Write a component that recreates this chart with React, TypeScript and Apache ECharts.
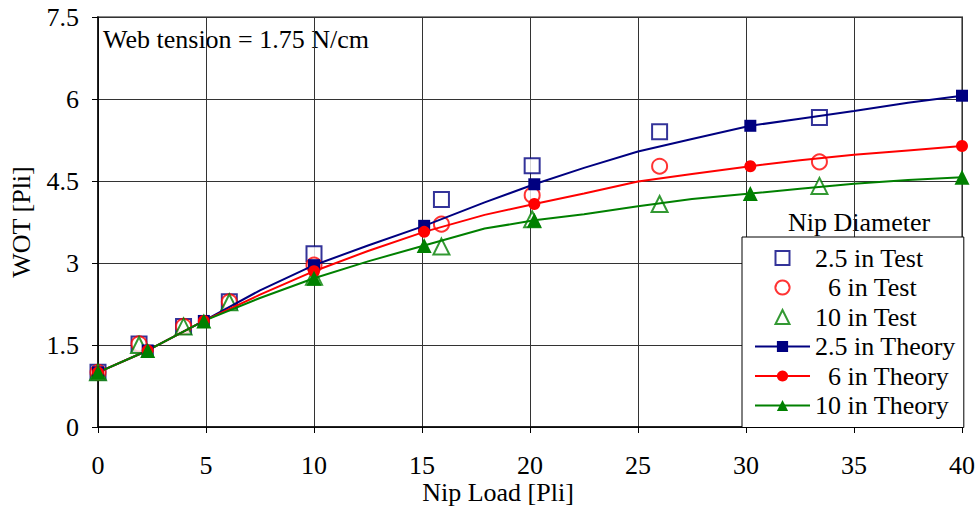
import React, { useEffect, useRef } from "react";
import * as echarts from "echarts";

const FONT = "'Liberation Serif', 'Times New Roman', serif";

// Test data (open markers)
const testX = [0, 1.9, 3.96, 6.08, 10, 15.9, 20.1, 26, 33.4];
const test25 = [1.0, 1.52, 1.84, 2.29, 3.17, 4.16, 4.78, 5.4, 5.66];
const test6 = [1.0, 1.52, 1.84, 2.29, 2.96, 3.71, 4.24, 4.77, 4.85];
const test10 = [1.0, 1.5, 1.84, 2.28, 2.75, 3.3, 3.8, 4.08, 4.41];

// Theory curves
const theoryX = [0, 2.3, 4.9, 7.5, 10, 12.5, 15.1, 17.9, 20.2, 22.5, 25, 27.5, 30.2, 32.5, 35, 37.5, 40];
const theory25 = [1.0, 1.4, 1.94, 2.5, 2.96, 3.32, 3.68, 4.11, 4.44, 4.74, 5.04, 5.27, 5.51, 5.64, 5.78, 5.93, 6.06];
const theory6 = [1.0, 1.4, 1.94, 2.42, 2.85, 3.22, 3.57, 3.88, 4.08, 4.27, 4.49, 4.63, 4.77, 4.88, 4.98, 5.06, 5.14];
const theory10 = [1.0, 1.4, 1.94, 2.36, 2.72, 3.03, 3.32, 3.63, 3.78, 3.89, 4.04, 4.17, 4.27, 4.36, 4.45, 4.52, 4.57];
const theoryMarkedX = [0, 2.3, 4.9, 10, 15.1, 20.2, 30.2, 40];

const xTicks = { min: 0, max: 40, interval: 5 };
const yTicks = { min: 0, max: 7.5, interval: 1.5 };

const names = ["2.5 in Test", "\u20026 in Test", "10 in Test", "2.5 in Theory", "\u20026 in Theory", "10 in Theory"];

const NAVY = "#000080";
const RED = "#ff0000";
const GREEN = "#008000";

const SQUARE_ICON = "path://M0,0L10,0L10,10L0,10Z";
const CIRCLE_ICON = "path://M5,0A5,5,0,1,1,4.999,0Z";
const TRIANGLE_ICON = "path://M5,0L10,10L0,10Z";

function testSeries(name: string, ys: number[], symbol: string, color: string, size: number) {
  return {
    name,
    type: "scatter",
    data: testX.map((x, i) => [x, ys[i]]),
    symbol,
    symbolSize: size,
    itemStyle: { color, borderColor: color, borderWidth: 2 },
    z: 2,
  };
}

function theorySeries(name: string, ys: number[], symbol: string, color: string, size: number) {
  return {
    name,
    type: "line",
    data: theoryX.map((x, i) =>
      theoryMarkedX.includes(x) ? { value: [x, ys[i]] } : { value: [x, ys[i]], symbol: "none" }
    ),
    symbol,
    symbolSize: size,
    showAllSymbol: true,
    lineStyle: { color, width: 2 },
    itemStyle: { color },
    z: 3,
  };
}

export default function App() {
  const ref = useRef<HTMLDivElement>(null);
  useEffect(() => {
    if (!ref.current) return;
    const chart = echarts.init(ref.current, null, { renderer: "svg" });
    chart.setOption({
      animation: false,
      backgroundColor: "#ffffff",
      textStyle: { fontFamily: FONT },
      grid: {
        left: 93,
        width: 869,
        top: 17,
        height: 410,
        show: true,
        borderColor: "#888888",
        borderWidth: 2,
        backgroundColor: "transparent",
      },
      xAxis: {
        type: "value",
        ...xTicks,
        axisLine: { show: true, onZero: false, lineStyle: { color: "#000", width: 1.5 } },
        axisTick: { show: true, length: 6, lineStyle: { color: "#000" } },
        axisLabel: { fontFamily: FONT, fontSize: 26, color: "#000", margin: 25 },
        splitLine: { show: true, lineStyle: { color: "#333", width: 1 } },
      },
      yAxis: {
        type: "value",
        ...yTicks,
        name: "WOT [Pli]",
        nameLocation: "middle",
        nameGap: 64,
        nameRotate: 90,
        nameTextStyle: { fontFamily: FONT, fontSize: 26, color: "#000" },
        axisLine: { show: true, onZero: false, lineStyle: { color: "#000", width: 1.5 } },
        axisTick: { show: true, length: 6, lineStyle: { color: "#000" } },
        axisLabel: {
          fontFamily: FONT,
          fontSize: 26,
          color: "#000",
          margin: 19,
          formatter: (v: number) => (Number.isInteger(v) ? String(v) : v.toFixed(1)),
        },
        splitLine: { show: true, lineStyle: { color: "#333", width: 1 } },
      },
      legend: {
        orient: "vertical",
        left: 742,
        top: 237,
        data: [
          { name: names[0], icon: SQUARE_ICON, itemStyle: { color: "#fff", borderColor: NAVY, borderWidth: 2 } },
          { name: names[1], icon: CIRCLE_ICON, itemStyle: { color: "#fff", borderColor: RED, borderWidth: 2 } },
          { name: names[2], icon: TRIANGLE_ICON, itemStyle: { color: "#fff", borderColor: GREEN, borderWidth: 2 } },
          { name: names[3] },
          { name: names[4] },
          { name: names[5] },
        ],
        symbolKeepAspect: true,
        backgroundColor: "#ffffff",
        borderColor: "#000",
        borderWidth: 1,
        borderRadius: 0,
        padding: [8, 8, 9, 12],
        itemGap: 3.5,
        itemWidth: 55,
        itemHeight: 14,
        textStyle: { fontFamily: FONT, fontSize: 26, color: "#000" },
      },
      graphic: [
        {
          type: "text",
          left: 103,
          top: 26,
          style: { text: "Web tension = 1.75 N/cm", fontFamily: FONT, fontSize: 26, fill: "#000" },
        },
        {
          type: "text",
          x: 859,
          y: 222,
          style: {
            text: "Nip Diameter",
            fontFamily: FONT,
            fontSize: 26,
            fill: "#000",
            textAlign: "center",
            textVerticalAlign: "middle",
          },
        },
        {
          type: "text",
          x: 498,
          y: 492,
          style: {
            text: "Nip Load [Pli]",
            fontFamily: FONT,
            fontSize: 26,
            fill: "#000",
            textAlign: "center",
            textVerticalAlign: "middle",
          },
        },
      ],
      series: [
        testSeries(names[0], test25, "emptyRect", NAVY, 15),
        testSeries(names[1], test6, "emptyCircle", RED, 15),
        testSeries(names[2], test10, "emptyTriangle", GREEN, 16),
        theorySeries(names[3], theory25, "rect", NAVY, 12),
        theorySeries(names[4], theory6, "circle", RED, 12),
        theorySeries(names[5], theory10, "triangle", GREEN, 15),
      ],
    });
    return () => chart.dispose();
  }, []);
  return <div ref={ref} style={{ position: "fixed", left: 0, top: 0, width: 979, height: 506 }} />;
}
